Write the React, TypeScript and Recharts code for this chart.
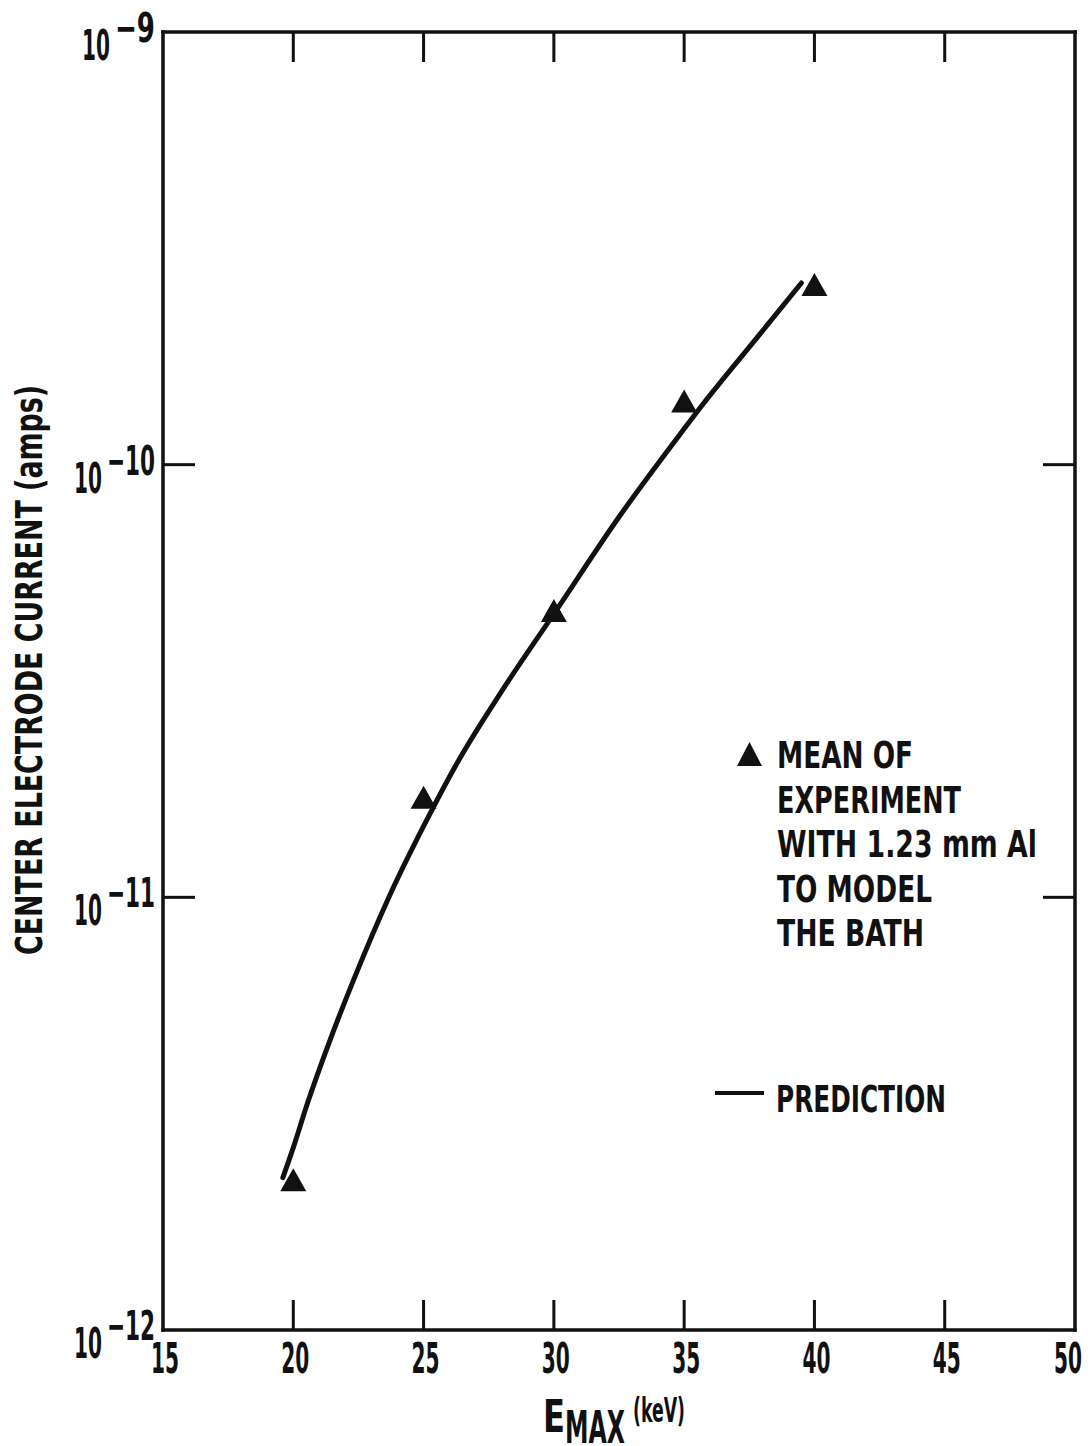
import React from "react";
import { ComposedChart, Legend, Line, Scatter, XAxis, YAxis } from "recharts";

const FONT = "'Liberation Sans Narrow', 'DejaVu Sans Condensed', 'Arial Narrow', sans-serif";
const INK = "#111";

// measured experiment (triangles)
const EXPERIMENT_KEV = [20, 25, 30, 35, 40];
const EXPERIMENT_AMPS = [2.22e-12, 1.7e-11, 4.59e-11, 1.4e-10, 2.6e-10];

// prediction curve
const PREDICTION_KEV = [19.6, 20.0, 20.55, 21.4, 22.3, 23.7, 25.0, 26.3, 28.1, 30.0, 32.5, 35.0, 35.6, 37.9, 39.5];
const PREDICTION_AMPS = [
  2.25e-12, 2.64e-12, 3.35e-12, 4.66e-12, 6.41e-12, 1.01e-11, 1.46e-11, 2.05e-11, 3.06e-11, 4.52e-11,
  7.57e-11, 1.21e-10, 1.35e-10, 2.0e-10, 2.63e-10,
];

const X_TICKS = [15, 20, 25, 30, 35, 40, 45, 50];
const X_INNER_TICKS = [20, 25, 30, 35, 40, 45];
const Y_TICKS = [1e-12, 1e-11, 1e-10, 1e-9];
const Y_INNER_TICKS = [1e-11, 1e-10];

const LEGEND_LINES = ["MEAN OF", "EXPERIMENT", "WITH 1.23 mm Al", "TO MODEL", "THE BATH"];
const LEGEND_WIDTHS = [136, 184, 260, 155, 147];

const experimentRows = EXPERIMENT_KEV.map((kev, i) => ({ kev, amps: EXPERIMENT_AMPS[i] }));
const predictionRows = PREDICTION_KEV.map((kev, i) => ({ kev, amps: PREDICTION_AMPS[i] }));

function Txt({ x, y, w, size, anchor = "start", children, transform }: any) {
  return (
    <text
      x={x}
      y={y}
      fontSize={size}
      fontFamily={FONT}
      fontWeight="bold"
      fill={INK}
      textAnchor={anchor}
      textLength={w}
      lengthAdjust="spacingAndGlyphs"
      transform={transform}
    >
      {children}
    </text>
  );
}

function BottomTick({ x, y, payload }: any) {
  const v = payload.value;
  const cx = v === 50 ? x - 7 : x + 2;
  return (
    <g>
      {X_INNER_TICKS.includes(v) && <line x1={x} x2={x} y1={y} y2={y - 30} stroke={INK} strokeWidth={3} />}
      <Txt x={cx} y={y + 43} w={28} size={43} anchor="middle">
        {v}
      </Txt>
    </g>
  );
}

function TopTick({ x, y, payload }: any) {
  if (!X_INNER_TICKS.includes(payload.value)) return null;
  return <line x1={x} x2={x} y1={y} y2={y + 30} stroke={INK} strokeWidth={3} />;
}

function LeftTick({ x, y, payload }: any) {
  const v = payload.value;
  const exp = Math.round(Math.log10(v));
  const sup = `\u2212${-exp}`;
  const supW = exp === -9 ? 40 : 48;
  const right = x - 8;
  return (
    <g>
      {Y_INNER_TICKS.includes(v) && <line x1={x} x2={x + 32} y1={y} y2={y} stroke={INK} strokeWidth={3} />}
      <Txt x={right - supW - 5} y={y + 28} w={28} size={42} anchor="end">
        10
      </Txt>
      <Txt x={right} y={y + 10} w={supW} size={40} anchor="end">
        {sup}
      </Txt>
    </g>
  );
}

function RightTick({ x, y, payload }: any) {
  if (!Y_INNER_TICKS.includes(payload.value)) return null;
  return <line x1={x} x2={x - 32} y1={y} y2={y} stroke={INK} strokeWidth={3} />;
}

function XTitle({ viewBox }: any) {
  const cx = viewBox.x + viewBox.width / 2;
  const top = viewBox.y;
  return (
    <g>
      <Txt x={cx - 76} y={top + 102} w={22} size={45}>
        E
      </Txt>
      <Txt x={cx - 54} y={top + 113} w={60} size={45}>
        MAX
      </Txt>
      <Txt x={cx + 14} y={top + 92} w={52} size={33}>
        (keV)
      </Txt>
    </g>
  );
}

function YTitle({ viewBox }: any) {
  const cy = viewBox.y + viewBox.height / 2 - 11;
  const bx = 42;
  return (
    <Txt x={bx} y={cy} w={570} size={38} anchor="middle" transform={`rotate(-90 ${bx} ${cy})`}>
      CENTER ELECTRODE CURRENT (amps)
    </Txt>
  );
}

function TriangleMark({ cx, cy }: any) {
  return <polygon points={`${cx},${cy - 12} ${cx + 13},${cy + 11} ${cx - 13},${cy + 11}`} fill={INK} />;
}

function LegendBox() {
  const ox = 700;
  const oy = 720;
  return (
    <svg width={391} height={420} style={{ overflow: "visible" }}>
      <polygon points={`${749.5 - ox},${742 - oy} ${762 - ox},${766 - oy} ${737 - ox},${766 - oy}`} fill={INK} />
      {LEGEND_LINES.map((line, i) => (
        <Txt key={line} x={777 - ox} y={768 + i * 44.6 - oy} w={LEGEND_WIDTHS[i]} size={38}>
          {line}
        </Txt>
      ))}
      <line x1={715 - ox} x2={764 - ox} y1={1093 - oy} y2={1093 - oy} stroke={INK} strokeWidth={4} />
      <Txt x={776 - ox} y={1112 - oy} w={170} size={38}>
        PREDICTION
      </Txt>
    </svg>
  );
}

const axisLine = { stroke: INK, strokeWidth: 3.5, strokeLinecap: "square" as const };

export default function App() {
  return (
    <div style={{ position: "absolute", left: 0, top: 0, width: 1091, height: 1446, background: "#fff" }}>
      <ComposedChart width={1091} height={1446} margin={{ top: 0, right: 0, bottom: 0, left: 0 }}>
        <XAxis
          xAxisId="b"
          dataKey="kev"
          type="number"
          orientation="bottom"
          height={116}
          domain={[15, 50]}
          ticks={X_TICKS}
          interval={0}
          allowDataOverflow
          tickSize={0}
          tickMargin={0}
          tickLine={false}
          axisLine={axisLine}
          tick={<BottomTick />}
          label={<XTitle />}
        />
        <XAxis
          xAxisId="t"
          dataKey="kev"
          type="number"
          orientation="top"
          height={32}
          domain={[15, 50]}
          ticks={X_INNER_TICKS}
          interval={0}
          allowDataOverflow
          tickSize={0}
          tickMargin={0}
          tickLine={false}
          axisLine={axisLine}
          tick={<TopTick />}
        />
        <YAxis
          yAxisId="l"
          type="number"
          scale="log"
          width={163}
          domain={[1e-12, 1e-9]}
          ticks={Y_TICKS}
          interval={0}
          allowDataOverflow
          tickSize={0}
          tickMargin={0}
          tickLine={false}
          axisLine={axisLine}
          tick={<LeftTick />}
          label={<YTitle />}
        />
        <YAxis
          yAxisId="r"
          orientation="right"
          type="number"
          scale="log"
          width={16}
          domain={[1e-12, 1e-9]}
          ticks={Y_INNER_TICKS}
          interval={0}
          allowDataOverflow
          tickSize={0}
          tickMargin={0}
          tickLine={false}
          axisLine={axisLine}
          tick={<RightTick />}
        />
        <Legend
          layout="vertical"
          align="center"
          verticalAlign="middle"
          wrapperStyle={{ left: 700, top: 720, width: 391, height: 420 }}
          content={() => <LegendBox />}
        />
        <Line
          xAxisId="b"
          yAxisId="l"
          data={predictionRows}
          dataKey="amps"
          type="monotone"
          stroke={INK}
          strokeWidth={5}
          strokeLinecap="round"
          dot={false}
          activeDot={false}
          isAnimationActive={false}
        />
        <Scatter
          xAxisId="b"
          yAxisId="l"
          data={experimentRows}
          dataKey="amps"
          shape={<TriangleMark />}
          isAnimationActive={false}
        />
      </ComposedChart>
    </div>
  );
}
